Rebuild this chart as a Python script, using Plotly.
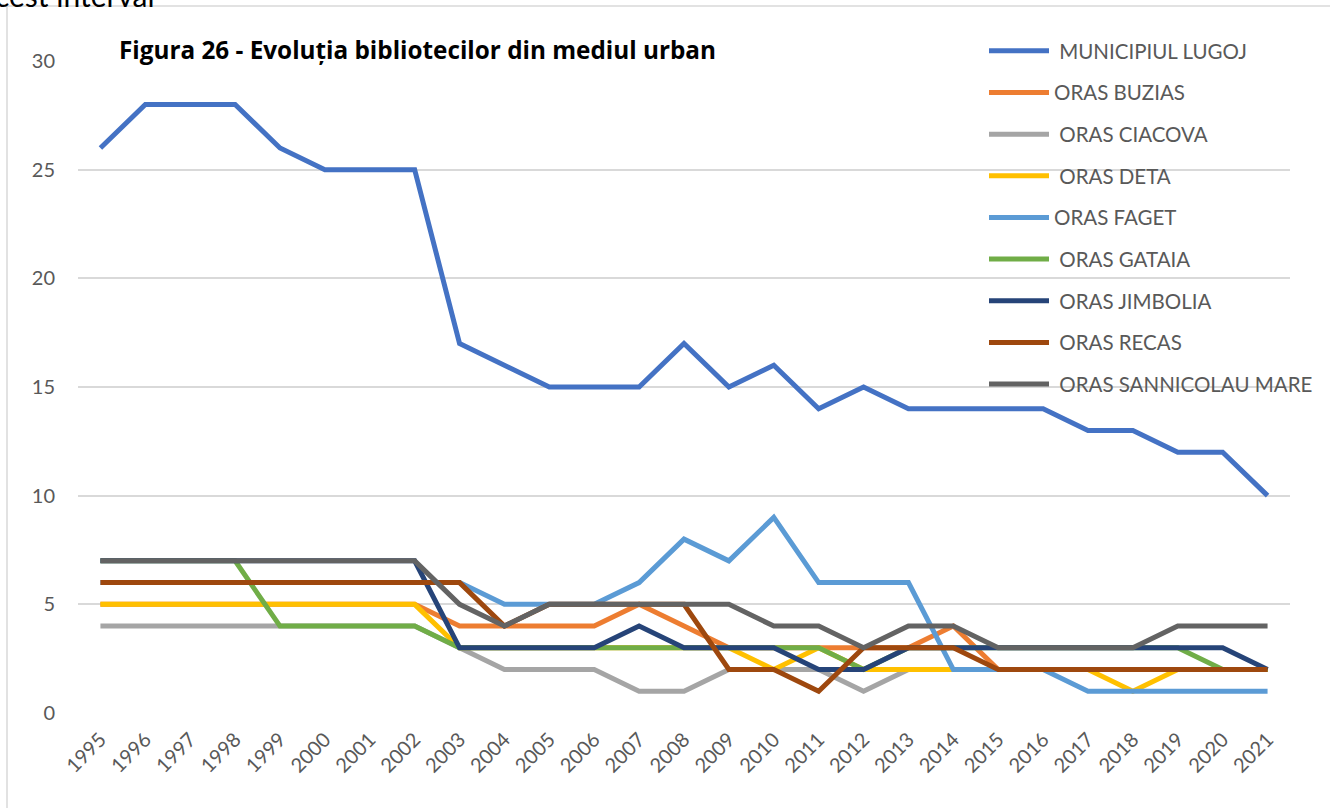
import plotly.graph_objects as go

years = ["1995", "1996", "1997", "1998", "1999", "2000", "2001", "2002", "2003",
         "2004", "2005", "2006", "2007", "2008", "2009", "2010", "2011", "2012",
         "2013", "2014", "2015", "2016", "2017", "2018", "2019", "2020", "2021"]

lugoj = [26, 28, 28, 28, 26, 25, 25, 25, 17, 16, 15, 15, 15, 17, 15, 16, 14, 15,
         14, 14, 14, 14, 13, 13, 12, 12, 10]
buzias = [5, 5, 5, 5, 5, 5, 5, 5, 4, 4, 4, 4, 5, 4, 3, 3, 3, 3, 3, 4, 2, 2, 2, 2, 2, 2, 2]
ciacova = [4, 4, 4, 4, 4, 4, 4, 4, 3, 2, 2, 2, 1, 1, 2, 2, 2, 1, 2, 2, 2, 2, 2, 2, 2, 2, 2]
deta = [5, 5, 5, 5, 5, 5, 5, 5, 3, 3, 3, 3, 3, 3, 3, 2, 3, 2, 2, 2, 2, 2, 2, 1, 2, 2, 2]
faget = [6, 6, 6, 6, 6, 6, 6, 6, 6, 5, 5, 5, 6, 8, 7, 9, 6, 6, 6, 2, 2, 2, 1, 1, 1, 1, 1]
gataia = [7, 7, 7, 7, 4, 4, 4, 4, 3, 3, 3, 3, 3, 3, 3, 3, 3, 2, 3, 3, 3, 3, 3, 3, 3, 2, 2]
jimbolia = [7, 7, 7, 7, 7, 7, 7, 7, 3, 3, 3, 3, 4, 3, 3, 3, 2, 2, 3, 3, 3, 3, 3, 3, 3, 3, 2]
recas = [6, 6, 6, 6, 6, 6, 6, 6, 6, 4, 5, 5, 5, 5, 2, 2, 1, 3, 3, 3, 2, 2, 2, 2, 2, 2, 2]
sannicolau = [7, 7, 7, 7, 7, 7, 7, 7, 5, 4, 5, 5, 5, 5, 5, 4, 4, 3, 4, 4, 3, 3, 3, 3, 4, 4, 4]

series_names = ["\u00a0MUNICIPIUL LUGOJ", "ORAS BUZIAS", "\u00a0ORAS CIACOVA", "\u00a0ORAS DETA",
                "ORAS FAGET", "\u00a0ORAS GATAIA", "\u00a0ORAS JIMBOLIA", "\u00a0ORAS RECAS",
                "\u00a0ORAS SANNICOLAU MARE"]
series_values = [lugoj, buzias, ciacova, deta, faget, gataia, jimbolia, recas, sannicolau]
colors = ["#4472C4", "#ED7D31", "#A5A5A5", "#FFC000", "#5B9BD5", "#70AD47",
          "#264478", "#9E480E", "#636363"]

title_text = "Figura 26 - Evoluția bibliotecilor din mediul urban"
page_text = "acest interval"

W, H = 1330, 808
L, R, T, B = 78, 40, 61, 95
pw, ph = W - L - R, H - T - B


def px(x):
    return (x - L) / pw


def py(y):
    return (H - B - y) / ph


fig = go.Figure()
for i, (name, vals, col) in enumerate(zip(series_names, series_values, colors)):
    fig.add_trace(go.Scatter(
        x=years, y=vals, mode="lines", name=name,
        line=dict(color=col, width=5),
        legendgroup="g%d" % i,
    ))

font_main = "Lato, 'Open Sans', sans-serif"

fig.update_layout(
    width=W, height=H,
    margin=dict(l=L, r=R, t=T, b=B, autoexpand=False),
    paper_bgcolor="white", plot_bgcolor="white",
    showlegend=True,
    legend=dict(
        x=px(984), y=py(31), xanchor="left", yanchor="top",
        font=dict(family=font_main, size=20.5, color="#595959"),
        bgcolor="rgba(0,0,0,0)",
        tracegroupgap=12,
        itemwidth=60,
    ),
    xaxis=dict(
        type="category", range=[-0.5, 26.5], showgrid=False, zeroline=False,
        showline=False, ticks="", tickangle=-45,
        tickfont=dict(family=font_main, size=20, color="#595959"),
        ticklabelstandoff=10,
    ),
    yaxis=dict(
        range=[0, 30], dtick=5, showgrid=True, gridcolor="#D9D9D9", gridwidth=1.6,
        zeroline=False, showline=False, ticks="",
        tickfont=dict(family=font_main, size=20, color="#595959"),
        ticklabelstandoff=22,
    ),
    shapes=[
        dict(type="rect", xref="paper", yref="paper",
             x0=px(7), x1=px(1345), y0=py(820), y1=py(6),
             line=dict(color="#D9D9D9", width=1.5), fillcolor="rgba(0,0,0,0)",
             layer="below"),
    ],
    annotations=[
        dict(text="<b>" + title_text + "</b>", xref="paper", yref="paper",
             x=px(117), y=py(50), xanchor="left", yanchor="middle", showarrow=False,
             font=dict(family="'Open Sans', Lato, sans-serif", size=24.3, color="#000000")),
        dict(text=page_text, xref="paper", yref="paper",
             x=px(-22), y=py(-5), xanchor="left", yanchor="middle", showarrow=False,
             font=dict(family="Lato, 'Open Sans', sans-serif", size=30, color="#000000")),
    ],
)

fig.write_html("out.html", config={"displayModeBar": False},
               post_script="document.body.style.margin='0px';")
